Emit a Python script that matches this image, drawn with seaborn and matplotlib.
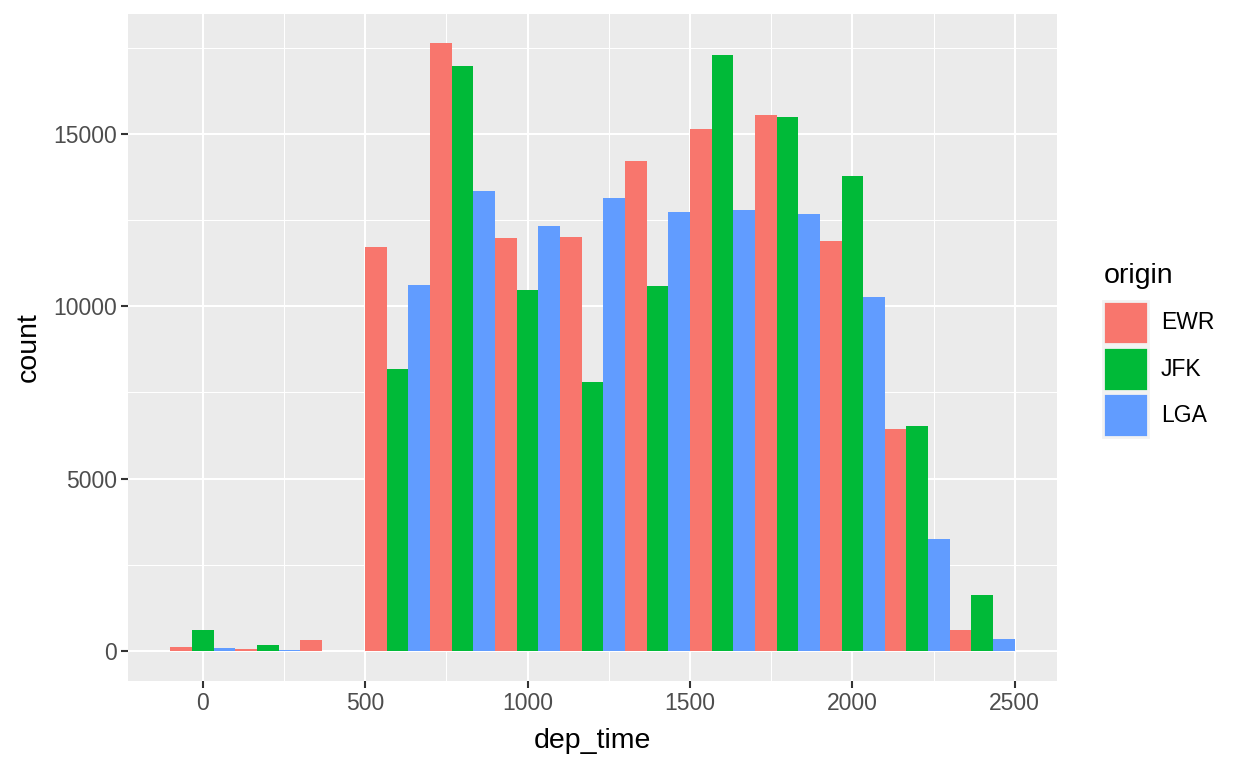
import pandas as pd
import seaborn as sns
import matplotlib.pyplot as plt
from matplotlib.patches import Patch
from matplotlib.ticker import MultipleLocator

# Bin centres (binwidth 200) and counts
bin_centers = [0, 200, 400, 600, 800, 1000, 1200, 1400, 1600, 1800, 2000, 2200, 2400]
ewr = [130, 50, 310, 11730, 17630, 11990, 12020, 14200, 15150, 15560, 11900, 6440, 600]
jfk = [600, 165, 0, 8180, 16970, 10480, 7800, 10590, 17300, 15500, 13790, 6530, 1620]
lga = [100, 25, 0, 10620, 13330, 12340, 13130, 12720, 12800, 12670, 10270, 3250, 340]
origins = ['EWR', 'JFK', 'LGA']
colors = ['#F8766D', '#00BA38', '#619CFF']

df = pd.DataFrame({
    'dep_time': bin_centers * 3,
    'count': ewr + jfk + lga,
    'origin': [o for o in origins for _ in bin_centers],
})

plt.rcParams['font.family'] = ['Liberation Sans', 'DejaVu Sans']

fig = plt.figure(figsize=(12.48, 7.68), dpi=100)
ax = fig.add_axes([128 / 1248, 1 - 681 / 768, (1057 - 128) / 1248, (681 - 14) / 768])
ax.set_facecolor('#EBEBEB')

sns.histplot(data=df, x='dep_time', weights='count', hue='origin', hue_order=origins,
             palette=colors, binwidth=200, binrange=(-100, 2500), multiple='dodge',
             shrink=1, alpha=1, linewidth=0, legend=False, ax=ax)

ax.set_xlim(-230, 2630)
ax.set_ylim(-870, 18475)
ax.xaxis.set_major_locator(MultipleLocator(500))
ax.xaxis.set_minor_locator(MultipleLocator(250))
ax.yaxis.set_major_locator(MultipleLocator(5000))
ax.yaxis.set_minor_locator(MultipleLocator(2500))
ax.set_axisbelow(True)
ax.grid(which='major', color='white', linewidth=1.5)
ax.grid(which='minor', color='white', linewidth=0.75)
for s in ax.spines.values():
    s.set_visible(False)
ax.tick_params(which='major', length=5, width=1.5, color='#333333',
               labelsize=16.5, labelcolor='#4D4D4D', pad=3)
ax.tick_params(which='minor', length=0)

ax.set_xlabel('dep_time', fontsize=20.5, color='black', labelpad=9)
ax.set_ylabel('count', fontsize=20.5, color='black', labelpad=8)

handles = [Patch(facecolor=c, edgecolor='#F2F2F2', linewidth=2) for c in colors]
leg = fig.legend(handles, origins, title='origin', loc='upper left',
                 bbox_to_anchor=(1092 / 1248, 1 - 252 / 768), frameon=False,
                 fontsize=16.5, title_fontsize=20.5, handlelength=1.95,
                 handleheight=2.55, labelspacing=0.12, handletextpad=0.55,
                 borderpad=0)
leg._legend_box.align = 'left'
leg._legend_box.sep = 8

fig.savefig('out.png', dpi=100)
